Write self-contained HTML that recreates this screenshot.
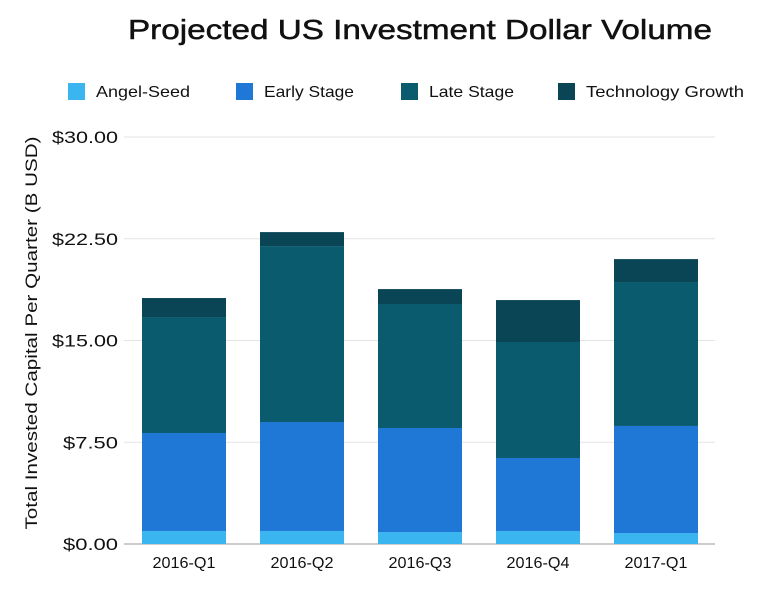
<!DOCTYPE html>
<html><head><meta charset="utf-8"><style>
body{margin:0;background:#fff;font-family:"Liberation Sans",sans-serif;}
svg text{font-family:"Liberation Sans",sans-serif;}
</style></head><body>
<svg id="chart" width="768" height="584" xmlns="http://www.w3.org/2000/svg">
<text x="128" y="39" font-size="28" fill="#111" textLength="584" lengthAdjust="spacingAndGlyphs" stroke="#111" stroke-width="0.5">Projected US Investment Dollar Volume</text>
<g id="legend"></g>
<g id="grid"></g>
<g id="bars"></g>
<g id="xaxis"></g>
<text transform="translate(37,333) rotate(-90)" text-anchor="middle" font-size="17" fill="#111" textLength="393" lengthAdjust="spacingAndGlyphs">Total Invested Capital Per Quarter (B USD)</text>
</svg>
<script>
const categories=["2016-Q1","2016-Q2","2016-Q3","2016-Q4","2017-Q1"];
const seriesNames=["Angel-Seed","Early Stage","Late Stage","Technology Growth"];
const angelSeed=[0.96,0.96,0.88,0.96,0.81];
const earlyStage=[7.22,8.03,7.67,5.38,7.89];
const lateStage=[8.55,12.97,9.14,8.55,10.61];
const techGrowth=[1.4,1.03,1.1,3.09,1.69];
const yTicks=[0,7.5,15,22.5,30];
const yTickLabels=["$0.00","$7.50","$15.00","$22.50","$30.00"];
const colors=["#3ab5f0","#1f78d6","#0b5b6e","#0a4555"];
const NS="http://www.w3.org/2000/svg";
const x0=125,x1=715,yBase=544,yTop=137,yMax=30;
const y=v=>yBase-(v/yMax)*(yBase-yTop);
const band=(x1-x0)/categories.length;
const xc=i=>x0+band*(i+0.5);
const bw=84;
function mk(t,a,p){const e=document.createElementNS(NS,t);for(const k in a)e.setAttribute(k,a[k]);p.appendChild(e);return e;}
const grid=document.getElementById('grid');
yTicks.forEach((t,i)=>{
 const l=mk('line',{x1:x0-1,x2:x1,y1:y(t),y2:y(t),stroke:i==0?'#999':'#e3e3e3','stroke-width':1},grid);
 
 
 const tx=mk('text',{x:118,y:y(t)+6,'text-anchor':'end','font-size':17,fill:'#111'},grid);
 tx.textContent=yTickLabels[i];
 tx.setAttribute('textLength',yTickLabels[i].length*11);
 tx.setAttribute('lengthAdjust','spacingAndGlyphs');
 
 
});
const series=[angelSeed,earlyStage,lateStage,techGrowth];
const bars=document.getElementById('bars');
categories.forEach((c,i)=>{
 let acc=0;
 series.forEach((s,j)=>{
  const r=mk('rect',{x:xc(i)-bw/2,y:y(acc+s[i]),width:bw,height:y(acc)-y(acc+s[i]),fill:colors[j]},bars);
  
  
  acc+=s[i];
 });
 const t=mk('text',{x:xc(i),y:568,'text-anchor':'middle','font-size':16,fill:'#111',textLength:63,lengthAdjust:'spacingAndGlyphs'},document.getElementById('xaxis'));
 t.textContent=c;
 
 
});
const lg=document.getElementById('legend');
const lx=[68,236,401,558];
const lw=[94,90,85,158];
seriesNames.forEach((n,i)=>{
 const r=mk('rect',{x:lx[i],y:83,width:17,height:17,fill:colors[i]},lg);
 
 
 const t=mk('text',{x:lx[i]+28,y:97,'font-size':16,fill:'#111',textLength:lw[i],lengthAdjust:'spacingAndGlyphs'},lg);
 t.textContent=n;
 
 
});
</script>
</body></html>
